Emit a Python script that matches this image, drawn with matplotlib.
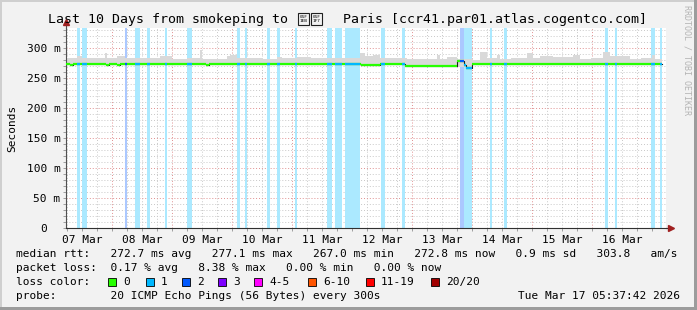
import matplotlib
matplotlib.use("Agg")
import matplotlib.pyplot as plt
from matplotlib.patches import Rectangle
from matplotlib.ticker import FixedLocator, FuncFormatter

W, H = 697, 310
MONO = "DejaVu Sans Mono"

# time axis in hours since start of graph (Mar 07 ~05:42)
day_labels = ["07 Mar", "08 Mar", "09 Mar", "10 Mar", "11 Mar",
              "12 Mar", "13 Mar", "14 Mar", "15 Mar", "16 Mar"]
first_noon = 6.3
first_midnight = 18.3

# loss bands (hours) and their loss level
band_start = [4.4, 6.4, 23.6, 27.6, 32.4, 39.6, 48.4, 68.4, 71.6, 80.4, 84.4,
              91.6, 104.4, 107.6, 111.6, 126.0, 134.4, 157.6, 159.2, 169.6,
              175.2, 215.6, 219.6, 234.0, 237.6]
band_end = [5.6, 8.4, 24.4, 29.6, 33.6, 40.4, 50.4, 69.6, 72.4, 81.6, 85.6,
            92.4, 106.4, 110.4, 117.6, 127.6, 135.6, 159.2, 162.4, 170.4,
            176.4, 216.8, 220.4, 235.6, 238.4]
band_loss = [1, 1, 2, 1, 1, 1, 1, 1, 1, 1, 1,
             1, 1, 1, 1, 1, 1, 2, 1, 1,
             1, 1, 1, 1, 1]

# smoke (hours, ms)
smoke_t = [0, 2.4, 4.4, 6.4, 10.8, 15.6, 16.4, 20.4, 23.6, 30.0, 36.4, 37.6,
           42.4, 48.4, 53.6, 54.4, 64.4, 65.6, 68.4, 78.8, 84.4, 86.4, 92.4,
           98.0, 104.4, 117.6, 119.6, 122.8, 125.6, 133.6, 136.4, 142.0, 148.4,
           149.6, 152.4, 156.4, 162.8, 165.6, 168.4, 172.4, 173.6, 178.0, 184.4,
           186.8, 189.6, 194.8, 202.8, 205.6, 210.0, 214.8, 217.6, 225.6, 230.0,
           234.4, 235.6]
smoke_top = [283, 284, 287, 283, 284, 292, 283.5, 287, 283, 284, 283, 286,
             281, 283, 297, 281, 286, 288, 283, 281, 285, 283, 285,
             284, 283, 292, 287, 288, 282.5, 283, 281, 282, 288,
             282, 285.5, 281, 280, 293, 283, 288, 281, 283, 291,
             283, 287, 285.5, 288, 282, 284, 294, 286.5, 282, 284,
             288, 282]
smoke_low = [271, 271, 271, 271, 271, 271, 271, 271, 271, 271, 271, 271,
             271, 271, 271, 271, 271, 271, 271, 271, 271, 271, 271,
             271, 271, 269.5, 269.5, 269.5, 271, 271, 268.5, 268.5, 268.5,
             268.5, 268.5, 268.5, 271, 271, 271, 271, 271, 271, 271,
             271, 271, 271, 271, 271, 271, 271, 271, 271, 271,
             271, 271]
t_end = 238.4

# median rtt (hours, ms)
median_t = [0, 1.6, 2.8, 16.0, 17.2, 20.4, 21.6, 56.0, 57.2, 118.0, 125.6,
            135.6, 139.6, 143.6, 156.4, 158.0, 159.2, 160.0, 162.4, 163.2]
median_v = [273.8, 272.3, 273.8, 272.3, 273.8, 272.3, 273.8, 272.3, 273.8,
            271.5, 273.8, 270.5, 269.8, 270.5, 277.5, 277.5, 271.0, 266.5,
            272.5, 273.8]

loss_names = ["0", "1", "2", "3", "4-5", "6-10", "11-19", "20/20"]
loss_colors = ["#26ff00", "#00b8ff", "#0059ff", "#7e00ff", "#ff00ff",
               "#ff5500", "#ff0000", "#a10000"]
band_colors = {1: "#abe9ff", 2: "#abc8ff"}

fig = plt.figure(figsize=(W / 100, H / 100), dpi=100)
fig.patch.set_facecolor("#f2f2f2")
for (x, y, w, h, c) in [(0, 0, W, 2, "#cfcfcf"), (0, 0, 2, H, "#cfcfcf"),
                        (0, H - 3, W, 3, "#9c9c9c"), (W - 3, 0, 3, H, "#9c9c9c")]:
    fig.add_artist(Rectangle((x / W, 1 - (y + h) / H), w / W, h / H,
                             transform=fig.transFigure, color=c, lw=0))

ax = fig.add_axes([66 / W, 1 - 228 / H, 600 / W, 200 / H])
ax.set_facecolor("white")
ax.set_xlim(0, 240)
ax.set_ylim(0, 333.3)
for s in ["top", "right"]:
    ax.spines[s].set_visible(False)
ax.spines["left"].set_color("#505050")
ax.spines["bottom"].set_color("#303030")
ax.spines["left"].set_linewidth(0.8)
ax.spines["bottom"].set_linewidth(0.8)

# grid
ax.xaxis.set_major_locator(FixedLocator([first_midnight + 24 * k for k in range(9)]))
ax.xaxis.set_minor_locator(FixedLocator([0.3 + 6 * k for k in range(40)]))
noon = {round(first_noon + 24 * k, 1): lab for k, lab in enumerate(day_labels)}
ax.xaxis.set_major_formatter(FuncFormatter(lambda v, p: ""))
ax.xaxis.set_minor_formatter(FuncFormatter(lambda v, p: noon.get(round(v, 1), "")))
ax.set_yticks([0, 50, 100, 150, 200, 250, 300])
ax.set_yticklabels(["0", "50 m", "100 m", "150 m", "200 m", "250 m", "300 m"])
ax.yaxis.set_minor_locator(FixedLocator(range(0, 340, 10)))
ax.grid(which="minor", color="#c8c8c8", linestyle=(0, (1, 2)), linewidth=0.7)
ax.grid(which="major", color="#e09090", linestyle=(0, (1, 2)), linewidth=0.7)
ax.set_axisbelow(True)
ax.tick_params(which="both", length=2, width=0.6, color="#909090", pad=2,
               labelsize=8, labelfontfamily=MONO)
ax.tick_params(axis="x", which="minor", pad=3)
ax.yaxis.get_major_ticks()[0].set_pad(2 + 9.6)
ax.set_ylabel("Seconds", fontsize=8, family=MONO)
ax.yaxis.set_label_coords(-49 / 600, 0.5)

# loss bands
for s, e, l in zip(band_start, band_end, band_loss):
    ax.axvspan(s, e, color=band_colors[l], lw=0, zorder=1)

# smoke
ax.fill_between(smoke_t + [t_end], smoke_low + [smoke_low[-1]],
                smoke_top + [smoke_top[-1]], step="post",
                color="#d9d9d9", lw=0, zorder=2)

# median line: thin dark connection, then coloured segments
ax.plot(median_t + [t_end], median_v + [median_v[-1]], drawstyle="steps-post",
        color="#202020", lw=0.8, zorder=3)
seg_end = median_t[1:] + [t_end]
ax.hlines(median_v, median_t, seg_end, color=loss_colors[0], lw=1.6, zorder=4)
for s, e, l in zip(band_start, band_end, band_loss):
    for a, b, v in zip(median_t, seg_end, median_v):
        lo, hi = max(a, s), min(b, e)
        if hi > lo:
            ax.hlines(v, lo, hi, color=loss_colors[l], lw=1.6, zorder=5)

# axis arrows
ax.plot([0, 0], [1, 1.03], transform=ax.transAxes, color="#505050", lw=0.8,
        clip_on=False)
ax.plot([1, 1.008], [0, 0], transform=ax.transAxes, color="#303030", lw=0.8,
        clip_on=False)
ax.plot([0], [1.03], marker="^", ms=4, color="#a02020", transform=ax.transAxes,
        clip_on=False)
ax.plot([1.008], [0], marker=">", ms=4, color="#a02020", transform=ax.transAxes,
        clip_on=False)


def ftext(x, y, s, **kw):
    kw.setdefault("family", MONO)
    kw.setdefault("fontsize", 8)
    kw.setdefault("va", "center")
    fig.text(x / W, 1 - y / H, s, **kw)


# title; the flag (no installed font has it) is drawn as the two tofu boxes
ftext(48, 19, "Last 10 Days from smokeping to", fontsize=9.5, ha="left")
for bx, code in [(298, "01F\n1EB"), (311, "01F\n1F7")]:
    fig.add_artist(Rectangle((bx / W, 1 - 25 / H), 11 / W, 12 / H,
                             transform=fig.transFigure, facecolor="none",
                             edgecolor="#202020", lw=0.8))
    ftext(bx + 5.5, 19, code, fontsize=3.2, ha="center", linespacing=1.0)
ftext(343, 19, "Paris [ccr41.par01.atlas.cogentco.com]", fontsize=9.5, ha="left")
ftext(687, 60, "RRDTOOL / TOBI OETIKER", fontsize=6, rotation=-90,
      ha="center", color="#b4b4b4")

ftext(16, 254, "median rtt:   272.7 ms avg   277.1 ms max   267.0 ms min   "
      "272.8 ms now   0.9 ms sd   303.8   am/s")
ftext(16, 268, "packet loss:  0.17 % avg   8.38 % max   0.00 % min   0.00 % now")
ftext(16, 282, "loss color:")
sq_x = [108, 146, 182, 218, 254, 308, 366, 431]
for x, name, c in zip(sq_x, loss_names, loss_colors):
    fig.add_artist(Rectangle((x / W, 1 - 286 / H), 8 / W, 8 / H,
                             transform=fig.transFigure, facecolor=c,
                             edgecolor="black", lw=0.6))
    ftext(x + 15, 282, name)
ftext(16, 296, "probe:        20 ICMP Echo Pings (56 Bytes) every 300s")
ftext(680, 296, "Tue Mar 17 05:37:42 2026", ha="right")

fig.savefig("out.png", dpi=100, facecolor=fig.get_facecolor())
